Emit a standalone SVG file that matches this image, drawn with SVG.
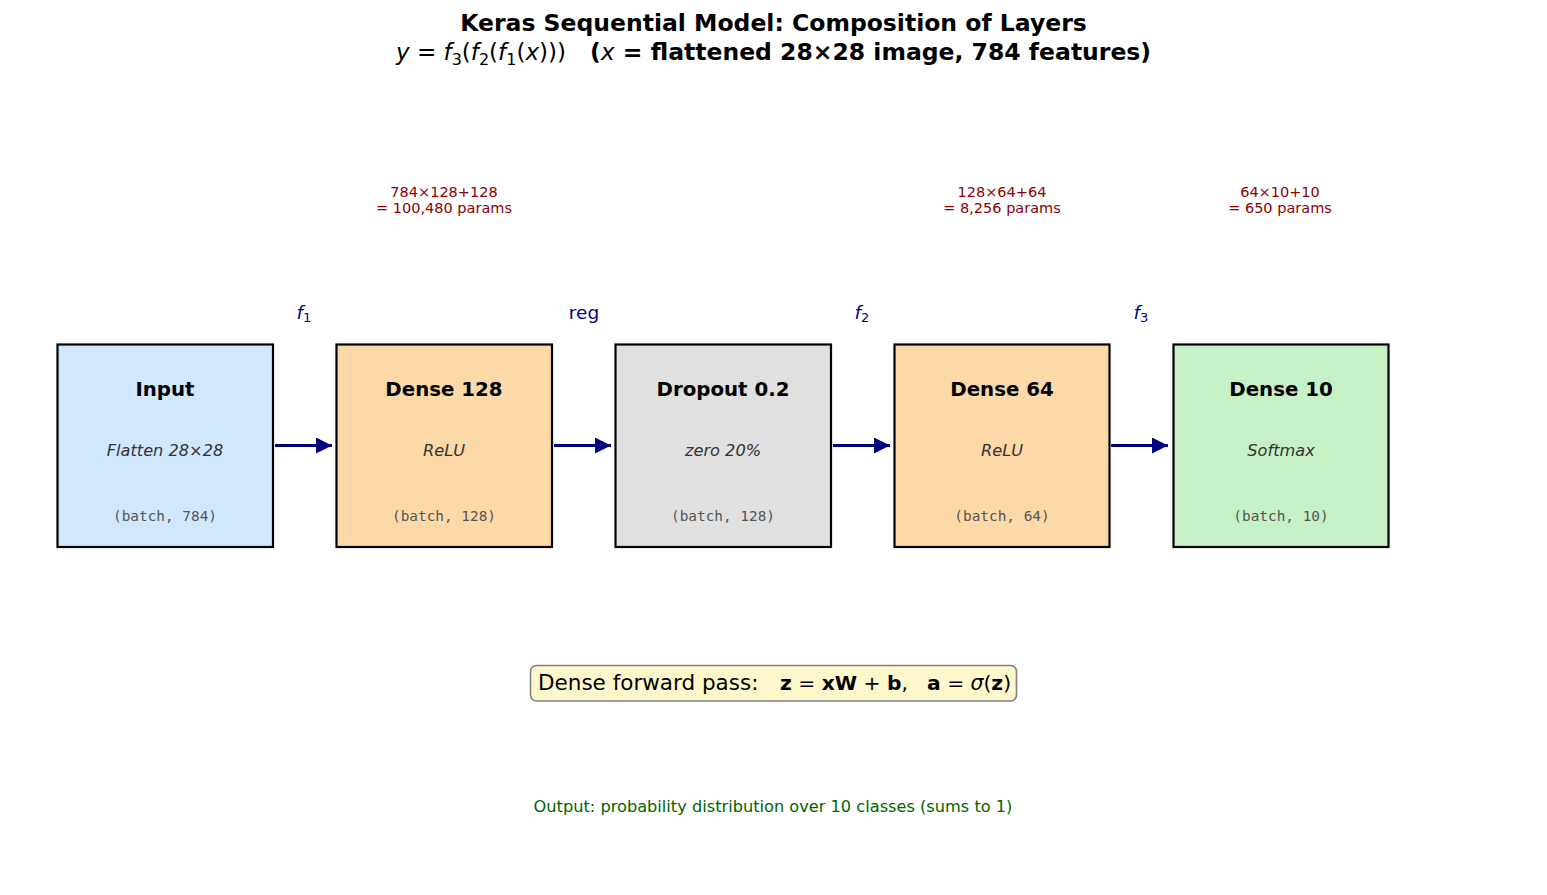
<svg xmlns="http://www.w3.org/2000/svg" width="1547" height="895" viewBox="0 0 1547 895">
<style>
text{font-family:"DejaVu Sans","Liberation Sans",sans-serif}
.box{stroke:#000;stroke-width:2.2}
.ttl{font-size:19.8px;font-weight:bold;text-anchor:middle;fill:#000}
.sub{font-size:16.2px;font-style:italic;text-anchor:middle;fill:#333}
.shp{font-family:"DejaVu Sans Mono","Liberation Mono",monospace;font-size:14.4px;text-anchor:middle;fill:#555}
.par{font-size:14.5px;text-anchor:middle;fill:#8b0000}
.flab{font-size:18.5px;text-anchor:middle;fill:#000080}
.conn{stroke:#000080;stroke-width:3.2;fill:none}
</style>
<defs>
<marker id="ah" markerUnits="userSpaceOnUse" markerWidth="18" markerHeight="18" refX="16" refY="8" orient="auto">
<path d="M0,0 L16,8 L0,16 Z" fill="#000080"/>
</marker>
</defs>
<rect width="1547" height="895" fill="#fff"/>
<g id="title">
<text x="773.5" y="31" font-size="23.5" font-weight="bold" text-anchor="middle">Keras Sequential Model: Composition of Layers</text>
<text x="396" y="60" font-size="23"><tspan font-style="italic">y</tspan> = <tspan font-style="italic">f</tspan><tspan font-size="16" dy="5">3</tspan><tspan dy="-5">(</tspan><tspan font-style="italic">f</tspan><tspan font-size="16" dy="5">2</tspan><tspan dy="-5">(</tspan><tspan font-style="italic">f</tspan><tspan font-size="16" dy="5">1</tspan><tspan dy="-5">(</tspan><tspan font-style="italic">x</tspan>)))</text>
<text x="590" y="60" font-size="23.5" font-weight="bold">(<tspan font-style="italic" font-weight="normal">x</tspan> = flattened 28×28 image, 784 features)</text>
</g>
<g id="params">
<text class="par" x="444" y="197">784×128+128</text>
<text class="par" x="444" y="213">= 100,480 params</text>
<text class="par" x="1002" y="197">128×64+64</text>
<text class="par" x="1002" y="213">= 8,256 params</text>
<text class="par" x="1280" y="197">64×10+10</text>
<text class="par" x="1280" y="213">= 650 params</text>
</g>
<g id="node-input">
<rect class="box" x="57.5" y="344.5" width="215.5" height="202.5" fill="#cfe8fe"/>
<text class="ttl" x="165" y="396">Input</text>
<text class="sub" x="165" y="456">Flatten 28×28</text>
<text class="shp" x="165" y="521">(batch, 784)</text>
</g>
<g id="node-dense128">
<rect class="box" x="336.5" y="344.5" width="215.5" height="202.5" fill="#fed9a8"/>
<text class="ttl" x="444" y="396">Dense 128</text>
<text class="sub" x="444" y="456">ReLU</text>
<text class="shp" x="444" y="521">(batch, 128)</text>
</g>
<g id="node-dropout">
<rect class="box" x="615.5" y="344.5" width="215.5" height="202.5" fill="#e0e0e0"/>
<text class="ttl" x="723" y="396">Dropout 0.2</text>
<text class="sub" x="723" y="456">zero 20%</text>
<text class="shp" x="723" y="521">(batch, 128)</text>
</g>
<g id="node-dense64">
<rect class="box" x="894.5" y="344.5" width="215" height="202.5" fill="#fed9a8"/>
<text class="ttl" x="1002" y="396">Dense 64</text>
<text class="sub" x="1002" y="456">ReLU</text>
<text class="shp" x="1002" y="521">(batch, 64)</text>
</g>
<g id="node-dense10">
<rect class="box" x="1173.5" y="344.5" width="215" height="202.5" fill="#c6f0c6"/>
<text class="ttl" x="1281" y="396">Dense 10</text>
<text class="sub" x="1281" y="456">Softmax</text>
<text class="shp" x="1281" y="521">(batch, 10)</text>
</g>
<g id="connectors">
<line class="conn" x1="275" y1="445.5" x2="332" y2="445.5" marker-end="url(#ah)"/>
<line class="conn" x1="554" y1="445.5" x2="611" y2="445.5" marker-end="url(#ah)"/>
<line class="conn" x1="833" y1="445.5" x2="890" y2="445.5" marker-end="url(#ah)"/>
<line class="conn" x1="1111" y1="445.5" x2="1168" y2="445.5" marker-end="url(#ah)"/>
<text class="flab" x="304" y="319"><tspan font-style="italic">f</tspan><tspan font-size="13" dy="3">1</tspan></text>
<text class="flab" x="584" y="319">reg</text>
<text class="flab" x="862" y="319"><tspan font-style="italic">f</tspan><tspan font-size="13" dy="3">2</tspan></text>
<text class="flab" x="1141" y="319"><tspan font-style="italic">f</tspan><tspan font-size="13" dy="3">3</tspan></text>
</g>
<g id="formula">
<rect x="530.5" y="665.5" width="486" height="35.5" rx="6" fill="#fff7cc" stroke="#808080" stroke-width="1.6"/>
<text x="538" y="690" font-size="21.5">Dense forward pass:</text>
<text x="780" y="690" font-size="20.3" font-weight="bold">z<tspan font-weight="normal"> = </tspan>xW<tspan font-weight="normal"> + </tspan>b<tspan font-weight="normal">,</tspan></text>
<text x="927" y="690" font-size="20.3"><tspan font-weight="bold">a</tspan> = <tspan font-style="italic">σ</tspan>(<tspan font-weight="bold">z</tspan>)</text>
</g>
<g id="footer">
<text x="773" y="812" font-size="16.2" text-anchor="middle" fill="#006400">Output: probability distribution over 10 classes (sums to 1)</text>
</g>
</svg>
